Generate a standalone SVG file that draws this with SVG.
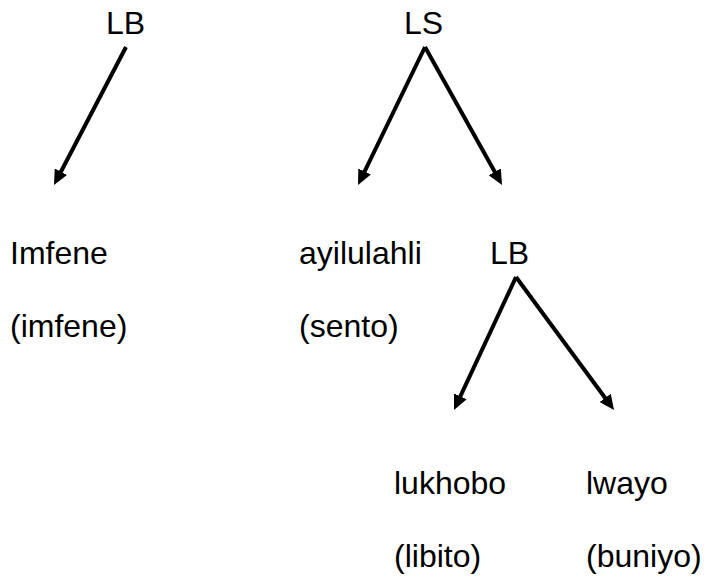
<svg xmlns="http://www.w3.org/2000/svg" width="707" height="583" viewBox="0 0 707 583">
<defs>
<style>
text{font-family:"Liberation Sans",Arial,sans-serif;font-size:32px;fill:#000}
.c{stroke:#000;stroke-width:4;fill:none}
</style>
<marker id="ah" markerUnits="userSpaceOnUse" markerWidth="16" markerHeight="14" refX="2" refY="7" orient="auto">
<path d="M0,0 L15,7 L0,14 z" fill="#000"/>
</marker>
</defs>
<rect width="707" height="583" fill="#fff"/>
<g id="connectors">
<line class="c" x1="126" y1="47" x2="60" y2="173.5" marker-end="url(#ah)"/>
<line class="c" x1="425" y1="47" x2="363.7" y2="173.3" marker-end="url(#ah)"/>
<line class="c" x1="425" y1="47" x2="495.7" y2="173.6" marker-end="url(#ah)"/>
<line class="c" x1="516" y1="277" x2="459.5" y2="398.2" marker-end="url(#ah)"/>
<line class="c" x1="516" y1="277" x2="606.3" y2="399.5" marker-end="url(#ah)"/>
</g>
<g id="node-lb1"><text x="106" y="34">LB</text></g>
<g id="node-ls"><text x="404" y="34">LS</text></g>
<g id="node-imfene"><text x="10" y="264">Imfene</text><text x="10" y="337">(imfene)</text></g>
<g id="node-ayilulahli"><text x="299" y="264">ayilulahli</text><text x="299" y="337">(sento)</text></g>
<g id="node-lb2"><text x="490" y="264">LB</text></g>
<g id="node-lukhobo"><text x="394" y="494">lukhobo</text><text x="394" y="567">(libito)</text></g>
<g id="node-lwayo"><text x="586" y="494">lwayo</text><text x="586" y="567">(buniyo)</text></g>
</svg>
